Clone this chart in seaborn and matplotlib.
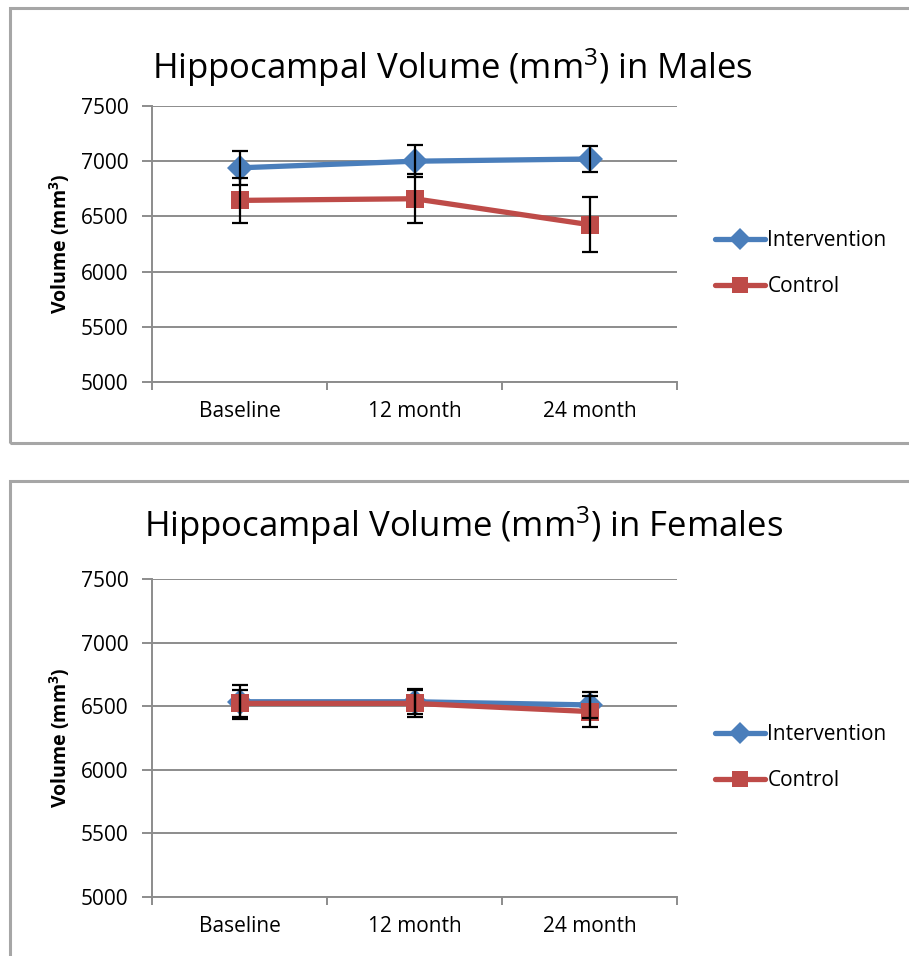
import matplotlib
matplotlib.use("Agg")
import matplotlib.pyplot as plt
from matplotlib.patches import Rectangle
from matplotlib.lines import Line2D
import pandas as pd
import seaborn as sns

# data
timepoints = ["Baseline", "12 month", "24 month"]
groups = ["Intervention", "Control"]

male_intervention = [6940, 7000, 7020]
male_intervention_err = [155, 145, 122]
male_control = [6645, 6660, 6425]
male_control_err = [205, 220, 248]

female_intervention = [6535, 6535, 6510]
female_intervention_err = [135, 100, 100]
female_control = [6522, 6522, 6458]
female_control_err = [105, 105, 122]

yticks = [5000, 5500, 6000, 6500, 7000, 7500]

colors = {"Intervention": "#4A7EBB", "Control": "#BE4B48"}
markers = {"Intervention": "D", "Control": "s"}

sns.set_style("white")
plt.rcParams["font.family"] = ["Open Sans", "DejaVu Sans"]
plt.rcParams["mathtext.fontset"] = "custom"
plt.rcParams["mathtext.rm"] = "Open Sans"
plt.rcParams["mathtext.it"] = "Open Sans"
plt.rcParams["mathtext.bf"] = "Open Sans:bold"
plt.rcParams["text.color"] = "black"
plt.rcParams["xtick.labelcolor"] = "black"
plt.rcParams["ytick.labelcolor"] = "black"
plt.rcParams["axes.labelcolor"] = "black"

W, H = 909, 956
fig = plt.figure(figsize=(W / 100, H / 100), dpi=100)

# panel frames (Excel chart area borders)
fig.patches.append(Rectangle((10 / W, 1 - 443 / H), 1.2, 435 / H, transform=fig.transFigure,
                             fill=False, edgecolor="#a6a6a6", linewidth=2.2, zorder=0))
fig.patches.append(Rectangle((10 / W, -0.2), 1.2, 0.2 + 1 - 481 / H, transform=fig.transFigure,
                             fill=False, edgecolor="#a6a6a6", linewidth=2.2, zorder=0))


def draw_panel(ax, inter, inter_err, ctrl, ctrl_err, title, title_x, title_y, legend_y):
    df = pd.DataFrame({
        "x": list(range(3)) * 2,
        "volume": inter + ctrl,
        "group": ["Intervention"] * 3 + ["Control"] * 3,
    })
    for yt in yticks:
        ax.axhline(yt, color="#8c8c8c", linewidth=1.4, zorder=0)
    sns.lineplot(data=df, x="x", y="volume", hue="group", style="group",
                 palette=colors, markers=markers, dashes=False, linewidth=3.8,
                 markersize=13, markeredgewidth=0, ax=ax, legend=False, zorder=2)
    ax.errorbar(range(3), inter, yerr=inter_err, fmt="none", ecolor="black",
                elinewidth=1.6, capsize=6, capthick=1.6, zorder=3)
    ax.errorbar(range(3), ctrl, yerr=ctrl_err, fmt="none", ecolor="black",
                elinewidth=1.6, capsize=6, capthick=1.6, zorder=3)

    ax.set_xlim(-0.5, 2.5)
    ax.set_ylim(5000, 7500)
    ax.set_yticks(yticks)
    ax.set_yticklabels([str(v) for v in yticks], fontsize=15)
    ax.set_xticks([-0.5, 0.5, 1.5, 2.5], minor=False)
    ax.set_xticklabels([])
    ax.set_xticks([0, 1, 2], minor=True)
    ax.set_xticklabels(timepoints, minor=True, fontsize=15)
    ax.tick_params(axis="x", which="major", direction="out", length=6, width=1.4,
                   color="#8c8c8c", bottom=True)
    ax.tick_params(axis="x", which="minor", length=0, pad=14)
    ax.tick_params(axis="y", direction="out", length=7, width=1.4, color="#8c8c8c",
                   left=True, pad=10)
    for side in ["top", "right"]:
        ax.spines[side].set_visible(False)
    for side in ["left", "bottom"]:
        ax.spines[side].set_color("#8c8c8c")
        ax.spines[side].set_linewidth(1.4)
    ax.set_xlabel("")
    ax.set_ylabel(r"Volume (mm$^\mathbf{3}$)", fontsize=14, fontweight="bold", labelpad=6)
    fig.text(title_x, title_y, title, fontsize=25, ha="center", va="center")

    handles = [Line2D([], [], color=colors[g], marker=markers[g], markersize=11,
                      linewidth=3.8, markeredgewidth=0) for g in groups]
    fig.legend(handles, groups, loc="center left", bbox_to_anchor=(707 / W, legend_y),
               frameon=False, fontsize=15, handlelength=2.4, handletextpad=0.1,
               labelspacing=1.2, borderaxespad=0)


ax1 = fig.add_axes([152 / W, 1 - 382 / H, 525 / W, 276 / H])
draw_panel(ax1, male_intervention, male_intervention_err, male_control, male_control_err,
           "Hippocampal Volume (mm$^3$) in Males", 452 / W, 1 - 68 / H, 1 - 264 / H)

ax2 = fig.add_axes([152 / W, 1 - 897 / H, 525 / W, 318 / H])
draw_panel(ax2, female_intervention, female_intervention_err, female_control, female_control_err,
           "Hippocampal Volume (mm$^3$) in Females", 464 / W, 1 - 526 / H, 1 - 758 / H)

fig.savefig("out.png", dpi=100)
